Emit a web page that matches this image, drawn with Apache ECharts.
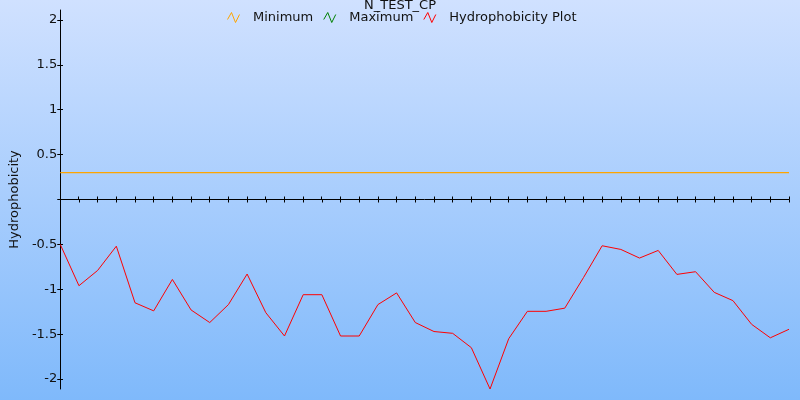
<!DOCTYPE html>
<html><head><meta charset="utf-8">
<script src="https://cdn.jsdelivr.net/npm/echarts@6/dist/echarts.min.js"></script>
<style>html,body{margin:0;padding:0;}#c{width:800px;height:400px;}</style>
</head><body><div id="c"></div>
<script>
const categories = [1,2,3,4,5,6,7,8,9,10,11,12,13,14,15,16,17,18,19,20,21,22,23,24,25,26,27,28,29,30,31,32,33,34,35,36,37,38,39,40];
const hydrophobicity = [-0.50,-0.96,-0.79,-0.52,-1.15,-1.24,-0.89,-1.23,-1.37,-1.17,-0.83,-1.26,-1.52,-1.06,-1.06,-1.52,-1.52,-1.17,-1.04,-1.37,-1.47,-1.49,-1.65,-2.11,-1.55,-1.245,-1.245,-1.21,-0.87,-0.515,-0.556,-0.652,-0.567,-0.834,-0.804,-1.034,-1.126,-1.39,-1.54,-1.445];
const minimum = [0.3,0.3,0.3,0.3,0.3,0.3,0.3,0.3,0.3,0.3,0.3,0.3,0.3,0.3,0.3,0.3,0.3,0.3,0.3,0.3,0.3,0.3,0.3,0.3,0.3,0.3,0.3,0.3,0.3,0.3,0.3,0.3,0.3,0.3,0.3,0.3,0.3,0.3,0.3,0.3];
const maximum = [];
const yTickLabels = [-2,-1.5,-1,-0.5,0.5,1,1.5,2];
const yTicks = [-2,-1.5,-1,-0.5,0,0.5,1,1.5,2];
const yMin = -2.11, yMax = 2.11;

const FONT = 'DejaVu Sans';
const TXT = '#111';
const seriesColors = {Minimum:'#ffa500', Maximum:'#008000', 'Hydrophobicity Plot':'#ff0000'};
const zig = 'path://M0,7 L4,0 L8,10 L12,2';

const chart = echarts.init(document.getElementById('c'), null, {renderer:'canvas'});
const gridPos = {left:60, right:11, top:10, bottom:11};
chart.setOption({
  animation:false,
  backgroundColor:{type:'linear',x:0,y:0,x2:0,y2:1,colorStops:[{offset:0,color:'#d0e1ff'},{offset:1,color:'#7fb9fb'}]},
  title:{text:'N_TEST_CP', left:'center', top:-6, textStyle:{fontFamily:FONT,fontSize:13,fontWeight:'normal',color:TXT}},
  legend:{
    left:227, top:11, padding:0, itemWidth:13, itemHeight:10, itemGap:10,
    icon:zig,
    itemStyle:{color:'transparent', borderColor:'inherit', borderWidth:1},
    textStyle:{fontFamily:FONT,fontSize:13,color:TXT,padding:[0,0,0,8]},
    data:Object.keys(seriesColors).map(n=>({name:n, itemStyle:{color:'transparent',borderColor:seriesColors[n],borderWidth:1}}))
  },
  grid:[Object.assign({},gridPos), Object.assign({},gridPos)],
  xAxis:[
    {gridIndex:0,type:'category',data:categories,boundaryGap:false,
     axisLine:{show:true,onZero:true,lineStyle:{color:'#000',width:1}},
     axisTick:{show:true,interval:0,length:3,inside:false,lineStyle:{color:'#000'}},
     axisLabel:{show:false},splitLine:{show:false}},
    {gridIndex:1,type:'category',data:categories,boundaryGap:false,
     axisLine:{show:false,onZero:true},
     axisTick:{show:true,interval:0,length:3,inside:true,lineStyle:{color:'#000'}},
     axisLabel:{show:false},splitLine:{show:false}}
  ],
  yAxis:[
    {gridIndex:0,type:'value',min:yMin,max:yMax,
     name:'Hydrophobicity',nameLocation:'middle',nameGap:37,
     nameTextStyle:{fontFamily:FONT,fontSize:13,color:TXT},
     axisLine:{show:true,lineStyle:{color:'#000',width:1}},
     axisTick:{show:true,length:3,inside:false,customValues:yTicks,lineStyle:{color:'#000'}},
     axisLabel:{show:true,customValues:yTickLabels,margin:3,fontFamily:FONT,fontSize:13,color:TXT},
     splitLine:{show:false}},
    {gridIndex:1,type:'value',min:yMin,max:yMax,
     axisLine:{show:false},
     axisTick:{show:true,length:3,inside:true,customValues:yTicks,lineStyle:{color:'#000'}},
     axisLabel:{show:false},splitLine:{show:false}}
  ],
  series:[
    {name:'Minimum',type:'line',xAxisIndex:0,yAxisIndex:0,data:minimum,symbol:'none',
     lineStyle:{color:seriesColors.Minimum,width:1.3},itemStyle:{color:seriesColors.Minimum}},
    {name:'Maximum',type:'line',xAxisIndex:0,yAxisIndex:0,data:maximum,symbol:'none',
     lineStyle:{color:seriesColors.Maximum,width:1},itemStyle:{color:seriesColors.Maximum}},
    {name:'Hydrophobicity Plot',type:'line',xAxisIndex:0,yAxisIndex:0,data:hydrophobicity,symbol:'none',
     lineStyle:{color:seriesColors['Hydrophobicity Plot'],width:1},itemStyle:{color:seriesColors['Hydrophobicity Plot']}}
  ]
});
</script></body></html>
